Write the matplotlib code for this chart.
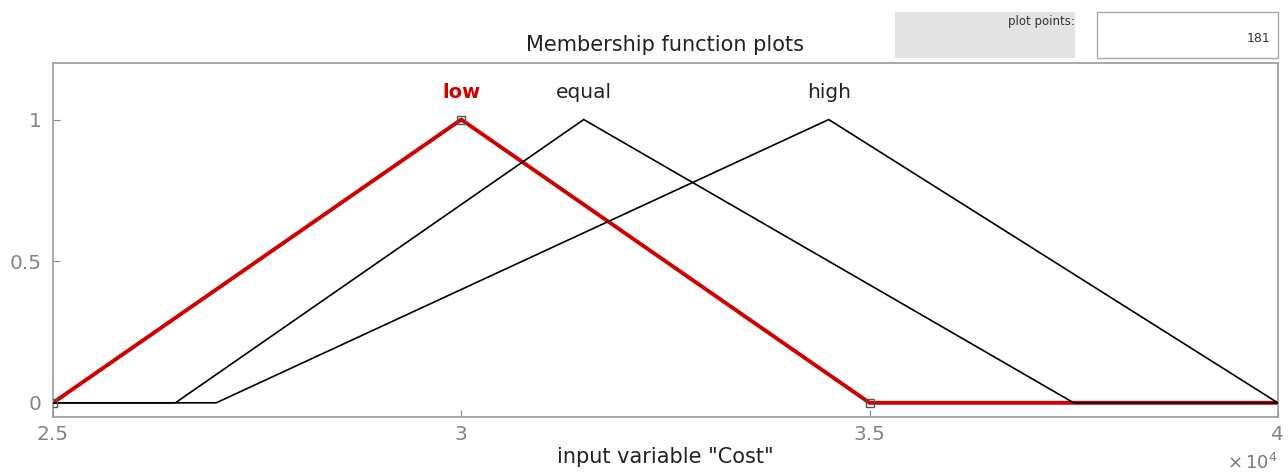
import matplotlib.pyplot as plt
from matplotlib.patches import Rectangle
import numpy as np

# membership functions of input "Cost" (trimf parameters)
mf_names = ["low", "equal", "high"]
mf_params = [
    [25000, 30000, 35000],
    [26500, 31500, 37500],
    [27000, 34500, 40000],
]
selected = 0
x_range = [25000, 40000]
n_points = 181
x_ticks = [25000, 30000, 35000, 40000]
x_ticklabels = ["2.5", "3", "3.5", "4"]
y_ticks = [0, 0.5, 1]
y_ticklabels = ["0", "0.5", "1"]


def trimf(x, params):
    a, b, c = params
    return np.maximum(np.minimum((x - a) / (b - a), (c - x) / (c - b)), 0)


def main():
    fig = plt.figure(figsize=(12.88, 4.74), dpi=100)
    ax = fig.add_axes([0.0411, 0.1203, 0.951, 0.747])

    x = np.linspace(x_range[0], x_range[1], n_points)
    grey = "#8a8a8a"

    for i, (name, params) in enumerate(zip(mf_names, mf_params)):
        y = trimf(x, params)
        if i == selected:
            ax.plot(x, y, color="#d00000", lw=2.8, zorder=2)
            ax.plot(params, [0, 1, 0], ls="none", marker="s", ms=6,
                    mfc="none", mec="#555555", mew=1, zorder=4)
            ax.text(params[1], 1.095, name, color="#d00000", fontsize=14,
                    fontweight="bold", ha="center", va="center")
        else:
            ax.plot(x, y, color="black", lw=1.2, zorder=3)
            ax.text(params[1], 1.095, name, color="#222222", fontsize=14.5,
                    ha="center", va="center")

    ax.set_xlim(x_range)
    ax.set_ylim(-0.05, 1.2)
    ax.set_xticks(x_ticks)
    ax.set_xticklabels(x_ticklabels)
    ax.set_yticks(y_ticks)
    ax.set_yticklabels(y_ticklabels)
    ax.tick_params(direction="in", length=5, colors=grey, labelsize=14.5,
                   labelcolor="#858585")
    ax.tick_params(axis="x", pad=6)
    ax.tick_params(axis="y", pad=8)
    for sp in ax.spines.values():
        sp.set_color("#9a9a9a")
        sp.set_linewidth(1.2)

    ax.set_xlabel('input variable "Cost"', fontsize=15, color="#222222", labelpad=2)
    fig.text(0.992, 0.003, r"$\times\,10^4$", fontsize=13, color="#7a7a7a",
             ha="right", va="bottom")
    fig.text(0.516, 0.905, "Membership function plots", fontsize=15,
             color="#222222", ha="center", va="center")

    # plot points controls
    fig.patches.append(Rectangle((895 / 1288, 1 - 58 / 474), 180 / 1288, 46 / 474,
                                 transform=fig.transFigure, facecolor="#e3e3e3",
                                 edgecolor="none"))
    fig.text(1075 / 1288, 1 - 21 / 474, "plot points:", fontsize=8.5,
             color="#333333", ha="right", va="center")
    fig.patches.append(Rectangle((1097 / 1288, 1 - 58 / 474), 181 / 1288, 46 / 474,
                                 transform=fig.transFigure, facecolor="white",
                                 edgecolor="#aaaaaa", lw=1))
    fig.text(1270 / 1288, 1 - 38 / 474, str(n_points), fontsize=9,
             color="#333333", ha="right", va="center")

    plt.savefig("out.png", dpi=100)
    plt.close()


if __name__ == "__main__":
    main()
